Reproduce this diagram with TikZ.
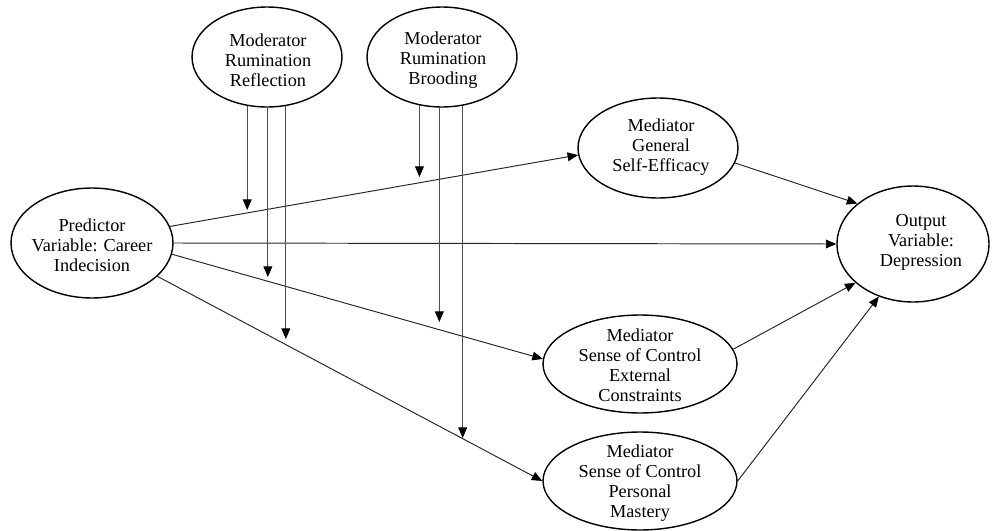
\documentclass[tikz,border=0pt]{standalone}
\usepackage{fontspec}
\setmainfont{Liberation Serif}
\usetikzlibrary{shapes.geometric,arrows.meta}
\begin{document}
\begin{tikzpicture}[x=0.02cm,y=-0.02cm,
  var/.style={draw=black, line width=0.8pt, ellipse, inner sep=0pt},
  txt/.style={align=center, inner sep=0pt, font=\fontsize{10.4}{11.34}\selectfont},
  tip/.style={-{Triangle[length=6pt,width=5pt,color=black]}},
  link/.style={tip, line width=0.55pt, draw=black!85},
  modlink/.style={tip, line width=0.55pt, draw=black!70}]
\useasboundingbox (0,0) rectangle (995,531);

% variables
\node[var, minimum width=3.24cm, minimum height=2.2cm]  (pred)  at (92,243)  {};
\node[var, minimum width=3.0cm,  minimum height=2.0cm]  (refl)  at (267,57)  {};
\node[var, minimum width=3.0cm,  minimum height=2.0cm]  (brood) at (442,57)  {};
\node[var, minimum width=3.2cm,  minimum height=2.0cm]  (gse)   at (658,148) {};
\node[var, minimum width=3.88cm, minimum height=1.96cm] (ext)   at (640,364) {};
\node[var, minimum width=3.88cm, minimum height=1.96cm] (mast)  at (640,481) {};
\node[var, minimum width=3.04cm, minimum height=2.32cm] (out)   at (913,244) {};

% labels
\node[txt] (predtxt)  at (92,245)  {Predictor\\Variable: Career\\Indecision};
\node[txt] (refltxt)  at (268,60)  {Moderator\\Rumination\\Reflection};
\node[txt] (broodtxt) at (443,60)  {Moderator\\Rumination\\Brooding};
\node[txt] (gsetxt)   at (661,147) {Mediator\\General\\Self-Efficacy};
\node[txt] (exttxt)   at (640,365) {Mediator\\Sense of Control\\External\\Constraints};
\node[txt] (masttxt)  at (640,483) {Mediator\\Sense of Control\\Personal\\Mastery};
\node[txt] (outtxt)   at (921,242) {Output\\Variable:\\Depression};

% paths from the predictor and the mediators
\draw[link] (pred.12)   -- (gse.185);
\draw[link] (pred.east) -- (out.west);
\draw[link] (pred.-8)   -- (ext.177);
\draw[link] (pred.-27)  -- (mast.west);
\draw[link] (gse.-11)   -- (out.144);
\draw[link] (ext.9)     -- (out.214);
\draw[link] (mast.0)    -- (out.237);

% moderator arrow ends
\coordinate (r1) at (0,210);
\coordinate (r2) at (0,277);
\coordinate (r3) at (0,339);
\coordinate (b1) at (0,177);
\coordinate (b2) at (0,322);
\coordinate (b3) at (0,438);

\draw[modlink] (refl.248.6)  -- (refl.248.6 |- r1);
\draw[modlink] (refl.271)    -- (refl.271 |- r2);
\draw[modlink] (refl.291.4)  -- (refl.291.4 |- r3);
\draw[modlink] (brood.245.3) -- (brood.245.3 |- b1);
\draw[modlink] (brood.267.7) -- (brood.267.7 |- b2);
\draw[modlink] (brood.293.6) -- (brood.293.6 |- b3);
\end{tikzpicture}
\end{document}
